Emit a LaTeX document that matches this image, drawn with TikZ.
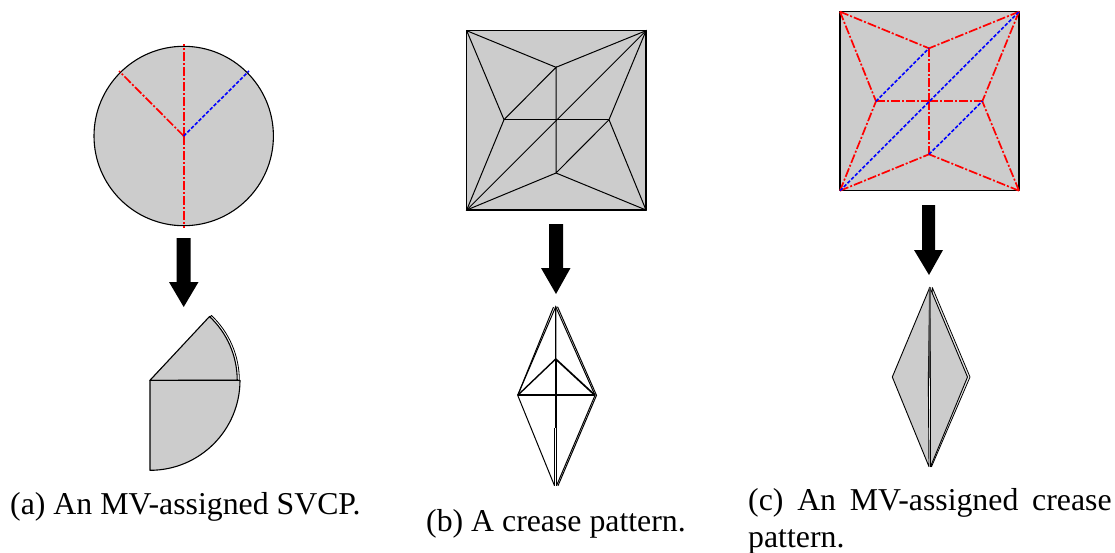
\documentclass[tikz,border=0pt]{standalone}
\usepackage{fontspec}
\setmainfont{Liberation Serif}
\tikzset{
  paper/.style={fill=black!20,draw=black,line width=1.1pt,line join=round},
  under/.style={fill=white,draw=black,line width=0.8pt,line join=round},
  crease/.style={draw=black,line width=1pt},
  mountain/.style={draw=red,line width=1.7pt,dash pattern=on 9pt off 2pt on 2pt off 2pt},
  valley/.style={draw=blue,line width=1.6pt,dash pattern=on 3.5pt off 1.8pt},
  foldarrow/.style={fill=black,draw=none},
  captext/.style={inner sep=0pt,font=\fontsize{31.8}{38}\selectfont,text=black}
}
\begin{document}
\begin{tikzpicture}[x=1pt,y=-1pt]
\useasboundingbox (0,0) rectangle (1115,552);
% (a) SVCP
\coordinate (ac) at (183.7,136);
\filldraw[paper] (ac) circle[radius=89.7];
\coordinate (an) at (183.7,44);
\coordinate (as) at (183.7,228);
\coordinate (aw) at (119,71);
\coordinate (ae) at (249,71);
\draw[mountain] (ac) -- (an);
\draw[mountain] (ac) -- (as);
\draw[mountain] (ac) -- (aw);
\draw[valley] (ac) -- (ae);
\fill[foldarrow] (176.5,238) -- (190.5,238) -- (190.5,282) -- (198.5,282) -- (183.7,307) -- (169,282) -- (176.5,282) -- cycle;
% (a) folded
\coordinate (fa) at (150,380.3);
\coordinate (fat) at (209.5,316.5);
\coordinate (fab) at (150,470.7);
\filldraw[under] (fa) -- (211.5,315.5) arc[start angle=-46.5,end angle=0,radius=89.3] -- cycle;
\filldraw[paper] (fa) -- (fat) arc[start angle=-47,end angle=0,radius=87.2] -- cycle;
\filldraw[paper] (fa) -- (240,380.3) arc[start angle=0,end angle=90,radius=90] -- cycle;
\draw[crease,line width=1.4pt] (fa) -- (238,380.3);
% (b) crease pattern
\coordinate (b1) at (466.7,30.7);
\coordinate (b2) at (646,30.7);
\coordinate (b3) at (646,210);
\coordinate (b4) at (466.7,210);
\coordinate (bt) at (556,67.3);
\coordinate (bl) at (504,119.7);
\coordinate (br) at (609,119.7);
\coordinate (bb) at (556,173);
\coordinate (bc) at (556,119.7);
\filldraw[paper,line width=1.3pt] (b1) -- (b2) -- (b3) -- (b4) -- cycle;
\draw[crease] (b1) -- (bt) -- (b2) -- (br) -- (b3) -- (bb) -- (b4) -- (bl) -- (b1);
\draw[crease] (b4) -- (b2);
\draw[crease] (bl) -- (bt) -- (bb) -- (br);
\draw[crease] (bl) -- (br);
\fill[foldarrow] (549,224) -- (563,224) -- (563,268) -- (570.5,268) -- (556,294) -- (541,268) -- (549,268) -- cycle;
% (b) folded
\coordinate (gt) at (555.7,306.7);
\coordinate (gl) at (517.7,395.3);
\coordinate (gr) at (595,395.3);
\coordinate (gm) at (555.7,359);
\coordinate (gb) at (554.5,485.7);
\draw[crease] (gl) -- (gt) -- (gr) -- (556.5,485.7);
\draw[crease] (gl) -- (gb);
\draw[crease] (557.5,306.7) -- (596.5,395.3) -- (558,485.7);
\draw[crease] (553.5,307) -- (gl);
\draw[crease,line width=1.4pt] (gt) -- (gm) -- (gl);
\draw[crease,line width=1.7pt] (gm) -- (gr);
\draw[crease,line width=1.8pt] (gl) -- (gr);
\draw[crease,line width=1.8pt] (gm) -- (555.7,428);
\draw[crease] (554,428) -- (554,485.7);
\draw[crease] (556.8,428) -- (556.8,485.7);
% (c) MV-assigned pattern
\coordinate (c1) at (840,11.7);
\coordinate (c2) at (1019,11.7);
\coordinate (c3) at (1019,190.7);
\coordinate (c4) at (840,190.7);
\coordinate (ct) at (929,48.3);
\coordinate (cl) at (876,101.3);
\coordinate (cr) at (982.3,101.3);
\coordinate (cb) at (929,154.3);
\coordinate (cc) at (929,101.3);
\filldraw[paper,line width=1.3pt] (c1) -- (c2) -- (c3) -- (c4) -- cycle;
\foreach \p/\q in {c1/ct,c2/ct,c2/cr,c3/cr,c3/cb,c4/cb,c4/cl,c1/cl,cl/cc,cc/cr,ct/cc,cc/cb}
  \draw[mountain] (\p) -- (\q);
\foreach \p/\q in {c4/c2,cl/ct,cb/cr}
  \draw[valley] (\p) -- (\q);
\fill[foldarrow] (922,205) -- (935,205) -- (935,250) -- (943,250) -- (929,275) -- (914,250) -- (922,250) -- cycle;
% (c) folded
\coordinate (ht) at (929.8,287.3);
\coordinate (hl) at (892.3,377);
\coordinate (hr) at (970,377);
\coordinate (hb) at (929,466.7);
\filldraw[under,fill=black!8] (932.3,287.5) -- (970,377) -- (931.5,466.7) -- (930.3,380) -- cycle;
\filldraw[paper,line width=0.9pt] (ht) -- (967.5,377) -- (930.5,466.7) -- (930.5,380) -- cycle;
\filldraw[paper,line width=0.9pt] (ht) -- (hl) -- (hb) -- (928.3,380) -- cycle;
\draw[draw=black!70,line width=1.8pt] (ht) -- (929.4,378);
% captions
\node[captext,anchor=base west] (capa) at (10,514) {(a) An MV-assigned SVCP.};
\node[captext,anchor=base west] (capb) at (426,531) {(b) A crease pattern.};
\node[captext,anchor=base west] (capc) at (748,510.7) {(c)\hspace{13.8pt}An\hspace{13.8pt}MV-assigned\hspace{13.8pt}crease};
\node[captext,anchor=base west] (capd) at (748,547.3) {pattern.};
\end{tikzpicture}
\end{document}
